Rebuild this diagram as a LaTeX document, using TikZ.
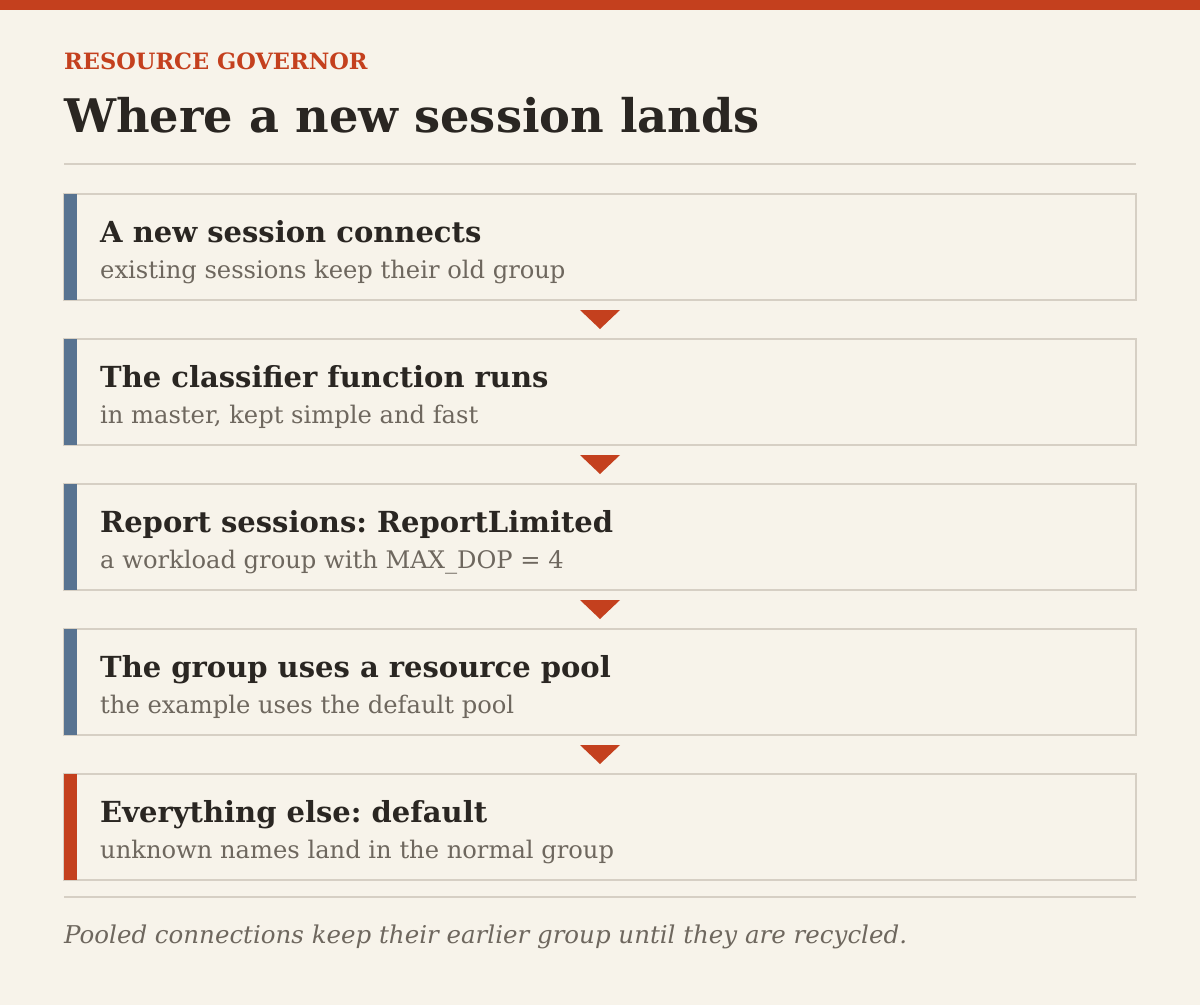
\documentclass[tikz,border=0pt]{standalone}
\usepackage{fontspec}
\setmainfont{DejaVu Serif}
\frenchspacing
\definecolor{paper}{HTML}{F7F3EA}
\definecolor{rust}{HTML}{C4401E}
\definecolor{ink}{HTML}{2A2622}
\definecolor{mute}{HTML}{6E675E}
\definecolor{rule}{HTML}{D6CFC4}
\definecolor{slate}{HTML}{587391}
\begin{document}
\begin{tikzpicture}[x=1pt, y=-1pt]
  % Hintergrund.
  \fill[paper] (0,0) rectangle (1200,1005);
  \useasboundingbox (0,0) rectangle (1200,1005);
  \fill[rust] (0,0) rectangle (1200,10);

  % Titel.
  \node[anchor=base west, inner sep=0pt, text=rust, font=\fontsize{22.5}{26}\selectfont\bfseries] (kicker) at (64,69) {RESOURCE GOVERNOR};
  \node[anchor=base west, inner sep=0pt, text=ink, font=\fontsize{46.3}{52}\selectfont\bfseries] (title) at (64,132) {Where a new session lands};
  \draw[rule, line width=2pt] (64,164) -- (1136,164);

  % Schritte.
  \tikzstyle{box}=[draw=rule, fill=paper, line width=2pt, minimum width=1072pt, minimum height=106pt, inner sep=0pt, outer sep=0pt]
  \tikzstyle{head}=[anchor=base west, inner sep=0pt, text=ink, font=\fontsize{29}{34}\selectfont\bfseries]
  \tikzstyle{sub}=[anchor=base west, inner sep=0pt, text=mute, font=\fontsize{24.2}{28}\selectfont]

  \node[box] (s1) at (600,247) {};
  \node[box] (s2) at (600,392) {};
  \node[box] (s3) at (600,537) {};
  \node[box] (s4) at (600,682) {};
  \node[box] (s5) at (600,827) {};

  \fill[slate] (s1.north west) rectangle ++(13,106);
  \fill[slate] (s2.north west) rectangle ++(13,106);
  \fill[slate] (s3.north west) rectangle ++(13,106);
  \fill[slate] (s4.north west) rectangle ++(13,106);
  \fill[rust] (s5.north west) rectangle ++(13,106);

  \node[head] (h1) at (100,242) {A new session connects};
  \node[sub] (t1) at (100,278) {existing sessions keep their old group};
  \node[head] (h2) at (100,387) {The classifier function runs};
  \node[sub] (t2) at (100,423) {in master, kept simple and fast};
  \node[head] (h3) at (100,532) {Report sessions: ReportLimited};
  \node[sub] (t3) at (100,568) {a workload group with MAX\_DOP = 4};
  \node[head] (h4) at (100,677) {The group uses a resource pool};
  \node[sub] (t4) at (100,713) {the example uses the default pool};
  \node[head] (h5) at (100,822) {Everything else: default};
  \node[sub] (t5) at (100,858) {unknown names land in the normal group};

  % Pfeile.
  \fill[rust] (s1.south) ++(-20,10) -- ++(40,0) -- ++(-20,19) -- cycle;
  \fill[rust] (s2.south) ++(-20,10) -- ++(40,0) -- ++(-20,19) -- cycle;
  \fill[rust] (s3.south) ++(-20,10) -- ++(40,0) -- ++(-20,19) -- cycle;
  \fill[rust] (s4.south) ++(-20,10) -- ++(40,0) -- ++(-20,19) -- cycle;

  % Fussnote.
  \draw[rule, line width=2pt] (64,897) -- (1136,897);
  \node[anchor=base west, inner sep=0pt, text=mute, font=\fontsize{24.5}{28}\selectfont\itshape] (note) at (64,943) {Pooled connections keep their earlier group until they are recycled.};
\end{tikzpicture}
\end{document}
